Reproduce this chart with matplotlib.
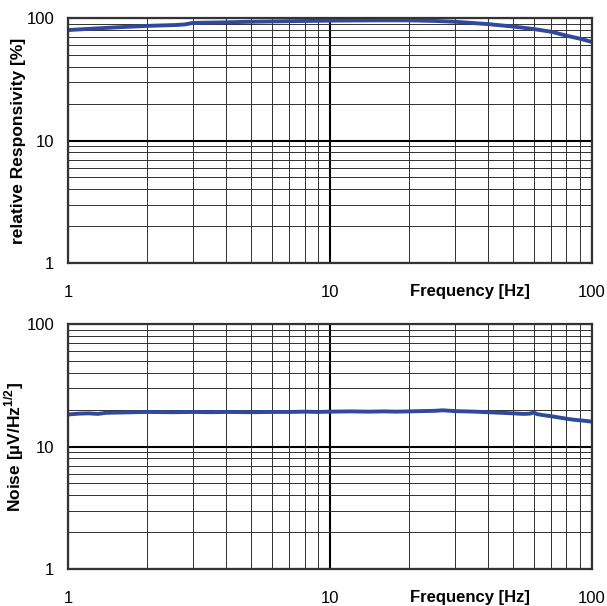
import matplotlib
matplotlib.use("Agg")
import matplotlib.pyplot as plt
from matplotlib.ticker import FixedLocator, FixedFormatter, LogLocator, NullFormatter

plt.rcParams['font.family'] = ['Liberation Sans', 'DejaVu Sans']
plt.rcParams['mathtext.fontset'] = 'custom'
plt.rcParams['mathtext.rm'] = 'Liberation Sans'
plt.rcParams['mathtext.bf'] = 'Liberation Sans:bold'

# responsivity curve
freq_resp = [1, 1.5, 2, 2.6, 2.8, 3, 4, 5, 7, 10, 15, 20, 25, 30, 40, 50, 60, 70, 80, 90, 100]
resp = [80, 84, 86.5, 88, 89, 91.5, 92.5, 93.5, 94.5, 95.5, 96, 96, 95, 93.5, 89.5, 85.5, 81.5, 77.5, 72, 68, 64]

# noise curve
freq_noise = [1, 1.1, 1.2, 1.3, 1.4, 1.6, 1.8, 2, 2.5, 3, 3.5, 4, 5, 6, 7, 8, 9, 10, 12, 14, 16, 18,
              20, 22, 25, 27, 30, 33, 36, 40, 45, 50, 55, 58, 60, 62, 65, 70, 75, 80, 85, 90, 95, 100]
noise = [18.3, 18.6, 18.7, 18.5, 18.9, 19.0, 19.1, 19.2, 19.1, 19.2, 19.1, 19.2, 19.1, 19.2, 19.2,
         19.3, 19.2, 19.3, 19.4, 19.3, 19.4, 19.3, 19.4, 19.5, 19.6, 19.8, 19.5, 19.4, 19.3, 19.1,
         18.9, 18.7, 18.5, 18.6, 19.0, 18.4, 18.1, 17.7, 17.3, 16.9, 16.6, 16.4, 16.2, 16.0]

ticks = [1, 10, 100]
tick_labels = ["1", "10", "100"]

fig = plt.figure(figsize=(6.07, 6.06), dpi=100)
ax1 = fig.add_axes([0.112, 0.566, 0.863, 0.404])
ax2 = fig.add_axes([0.112, 0.061, 0.863, 0.404])

line_color = '#31499b'

for ax, x, y, ylab in [(ax1, freq_resp, resp, 'relative Responsivity [%]'),
                       (ax2, freq_noise, noise, r'Noise [µV/Hz$^{\mathbf{1/2}}$]')]:
    ax.set_xscale('log')
    ax.set_yscale('log')
    ax.set_xlim(1, 100)
    ax.set_ylim(1, 100)
    ax.plot(x, y, color=line_color, lw=2.8, zorder=5, solid_capstyle='butt')

    for axis in [ax.xaxis, ax.yaxis]:
        axis.set_major_locator(FixedLocator(ticks))
        axis.set_major_formatter(FixedFormatter(tick_labels))
        axis.set_minor_locator(LogLocator(base=10, subs=range(2, 10)))
        axis.set_minor_formatter(NullFormatter())

    ax.grid(which='major', color='black', lw=1.5)
    ax.grid(which='minor', color='#303030', lw=0.7)
    ax.tick_params(which='both', length=0, labelsize=12)
    ax.tick_params(axis='x', pad=16)
    ax.tick_params(axis='y', pad=10)
    for s in ax.spines.values():
        s.set_color('#333333')
        s.set_linewidth(1.6)
        s.set_zorder(6)

    ax.set_xlabel('Frequency [Hz]', fontsize=12, fontweight='bold')
    ax.xaxis.set_label_coords(0.767, -0.085)
    ax.set_ylabel(ylab, fontsize=12.5, fontweight='bold')
    ax.yaxis.set_label_coords(-0.08, 0.5)

fig.savefig("out.png", dpi=100)
plt.close()
